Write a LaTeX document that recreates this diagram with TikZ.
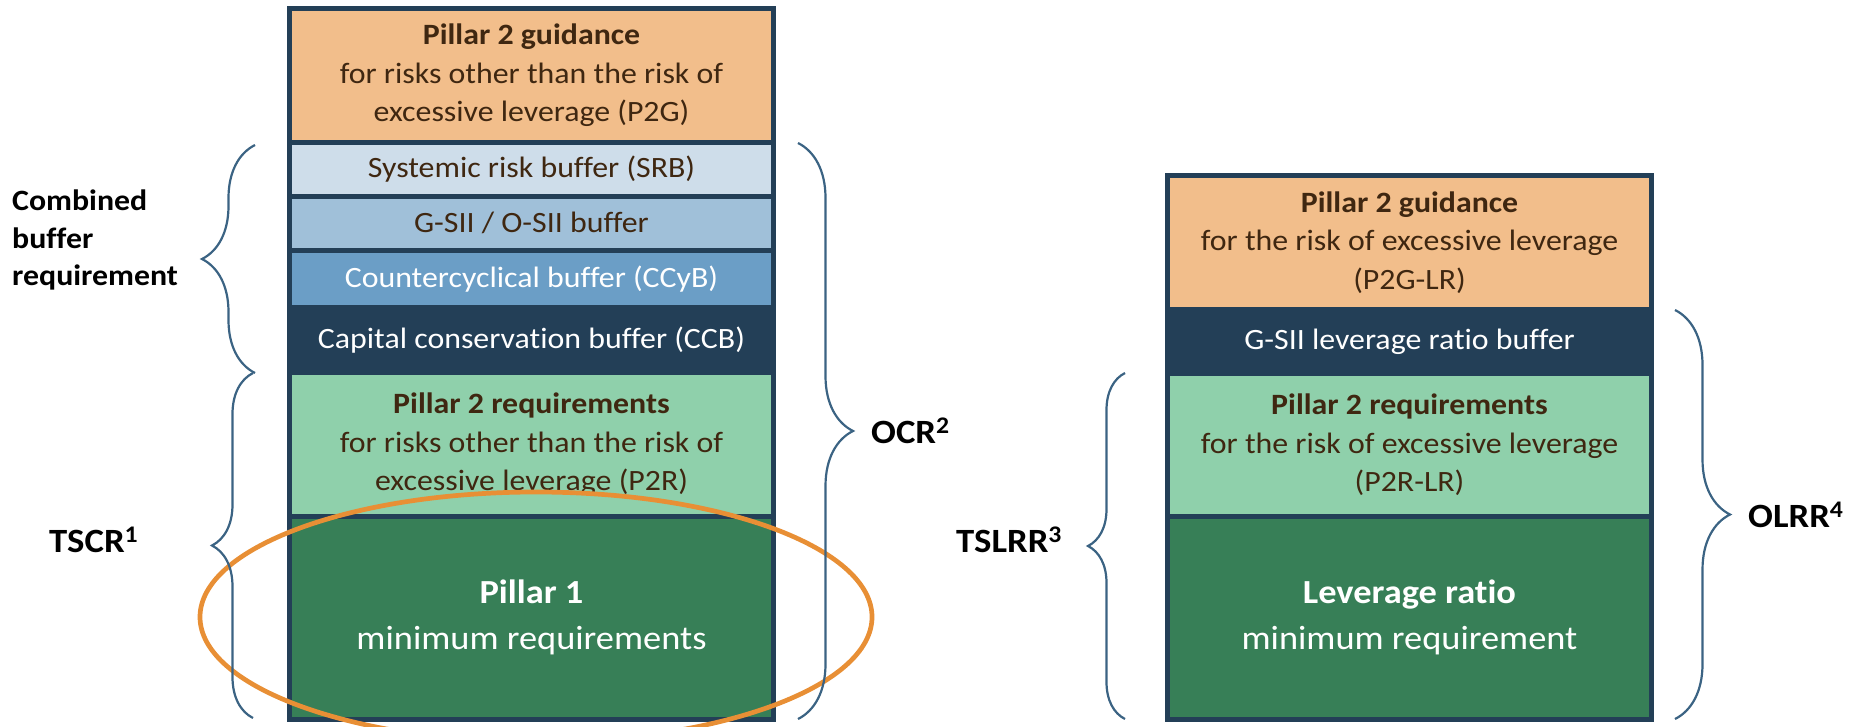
\documentclass[tikz,border=0pt]{standalone}
\usepackage{fontspec}
\setmainfont{Carlito}[FakeStretch=1.08, Ligatures=NoCommon]
\usetikzlibrary{decorations.pathreplacing,shapes.geometric}
\definecolor{navyC}{HTML}{233F57}
\definecolor{orangeC}{HTML}{F2BE8B}
\definecolor{srbC}{HTML}{CEDDEA}
\definecolor{gsiiC}{HTML}{A0C0D9}
\definecolor{ccybC}{HTML}{6B9EC6}
\definecolor{ptwoC}{HTML}{8FD0AB}
\definecolor{poneC}{HTML}{377F57}
\definecolor{brownC}{HTML}{3F2711}
\definecolor{braceC}{HTML}{3B6383}
\definecolor{ringC}{HTML}{E88F35}
\newcommand\myboxfont{\fontsize{29.5}{38.5}\selectfont}
\newcommand\mybigfont{\fontsize{33.7}{46}\selectfont}
\newcommand\mylblfont{\fontsize{34}{40}\selectfont\bfseries}
\newcommand\mycbfont{\fontsize{29.5}{37.5}\selectfont\bfseries}
\tikzset{
  layer/.style={draw=navyC, line width=5pt, minimum width=484pt, inner sep=0pt,
    align=center, font=\myboxfont, text=brownC},
  lightlayer/.style={layer},
  darklayer/.style={layer, text=white},
  lbl/.style={font=\mylblfont, text=black, inner sep=0pt},
  curly/.style={draw=braceC, line width=2.2pt, decorate,
    decoration={brace, amplitude=#1}},
  ring/.style={draw=ringC, line width=4.7pt, ellipse, inner sep=0pt},
}
\begin{document}
\begin{tikzpicture}[x=1pt,y=-1pt]
\useasboundingbox (0,0) rectangle (1854,726);
\clip (0,0) rectangle (1854,726);

% left column
\node[lightlayer, fill=orangeC, minimum height=134.5pt] (p2g) at (531.5,75.25)
  {\textbf{Pillar 2 guidance}\\for risks other than the risk of\\excessive leverage (P2G)};
\node[lightlayer, fill=srbC, minimum height=53.5pt] (srb) at (531.5,169.25)
  {Systemic risk buffer (SRB)};
\node[lightlayer, fill=gsiiC, minimum height=54.5pt] (gsii) at (531.5,223.25)
  {G-SII / O-SII buffer};
\node[darklayer, fill=ccybC, minimum height=57pt] (ccyb) at (531.5,279)
  {Countercyclical buffer (CCyB)};
\node[darklayer, fill=navyC, minimum height=65pt] (ccb) at (531.5,340)
  {Capital conservation buffer (CCB)};
\node[lightlayer, fill=ptwoC, minimum height=143.5pt] (p2r) at (531.5,444.25)
  {\textbf{Pillar 2 requirements}\\for risks other than the risk of\\excessive leverage (P2R)};
\node[darklayer, fill=poneC, minimum height=203.5pt, font=\mybigfont] (p1) at (531.5,617.75)
  {\textbf{Pillar 1}\\minimum requirements};

% right column
\node[lightlayer, fill=orangeC, minimum height=134pt] (p2glr) at (1409.5,242.5)
  {\textbf{Pillar 2 guidance}\\for the risk of excessive leverage\\(P2G-LR)};
\node[darklayer, fill=navyC, minimum height=64pt] (lrb) at (1409.5,341.5)
  {G-SII leverage ratio buffer};
\node[lightlayer, fill=ptwoC, minimum height=142.5pt] (p2rlr) at (1409.5,444.75)
  {\textbf{Pillar 2 requirements}\\for the risk of excessive leverage\\(P2R-LR)};
\node[darklayer, fill=poneC, minimum height=203.5pt, font=\mybigfont] (lr) at (1409.5,617.75)
  {\textbf{Leverage ratio}\\minimum requirement};

% highlight ring
\node[ring, minimum width=672pt, minimum height=250pt] (hl) at (536,617) {};

% labels
\node[lbl, font=\mycbfont, anchor=west, align=left] (cbr) at (12,240)
  {Combined\\buffer\\requirement};
\node[lbl, anchor=base west] (tscr) at (49,552) {TSCR\textsuperscript{1}};
\node[lbl, anchor=base west] (ocr) at (871,443) {OCR\textsuperscript{2}};
\node[lbl, anchor=base west] (tslrr) at (956,552) {TSLRR\textsuperscript{3}};
\node[lbl, anchor=base west] (olrr) at (1748,527) {OLRR\textsuperscript{4}};

% braces
\coordinate (cbTop) at (255,145);
\coordinate (cbBot) at (255,373);
\coordinate (tsTop) at (253,373);
\coordinate (tsBot) at (253,718);
\coordinate (ocTop) at (798,143);
\coordinate (ocBot) at (798,719);
\coordinate (tlTop) at (1125,373);
\coordinate (tlBot) at (1125,719);
\coordinate (olTop) at (1675,310);
\coordinate (olBot) at (1675,719);
\draw[curly=53pt] (cbBot) -- (cbTop);
\draw[curly=41pt] (tsBot) -- (tsTop);
\draw[curly=55pt] (ocTop) -- (ocBot);
\draw[curly=37pt] (tlBot) -- (tlTop);
\draw[curly=55pt] (olTop) -- (olBot);
\end{tikzpicture}
\end{document}
